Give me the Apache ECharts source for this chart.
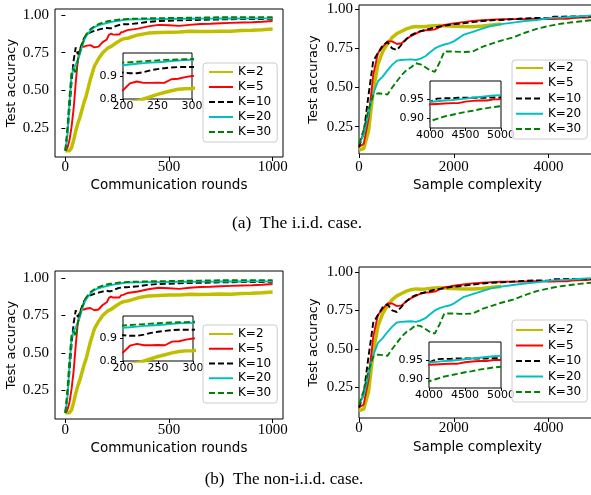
<!DOCTYPE html>
<html>
<head>
<meta charset="utf-8">
<script src="https://cdn.jsdelivr.net/npm/echarts@6/dist/echarts.min.js"></script>
<style>
  html, body { margin: 0; padding: 0; background: #fff; }
  #chart { width: 591px; height: 495px; }
</style>
</head>
<body>
<div id="chart"></div>
<script>
const kNames = ['K=2', 'K=5', 'K=10', 'K=20', 'K=30'];

// left panels: test accuracy vs communication rounds
const rounds = [0, 10, 20, 30, 40, 50, 60, 70, 80, 90, 100, 120, 140, 160, 180,
  200, 210, 220, 230, 240, 250, 260, 270, 280, 290, 300,
  350, 400, 450, 500, 550, 600, 650, 700, 750, 800, 850, 900, 950, 1000];
const roundsK2 = [0.10, 0.10, 0.10, 0.12, 0.17, 0.23, 0.28, 0.32, 0.37, 0.42, 0.46, 0.57, 0.66, 0.71, 0.75,
  0.775, 0.785, 0.79, 0.80, 0.81, 0.82, 0.828, 0.836, 0.842, 0.845, 0.846,
  0.868, 0.88, 0.884, 0.886, 0.887, 0.892, 0.89, 0.891, 0.893, 0.892, 0.897, 0.899, 0.902, 0.907];
const roundsK5 = [0.10, 0.12, 0.17, 0.26, 0.38, 0.55, 0.70, 0.77, 0.79, 0.79, 0.795, 0.80, 0.785, 0.79, 0.82,
  0.838, 0.868, 0.876, 0.87, 0.87, 0.871, 0.87, 0.886, 0.888, 0.895, 0.90,
  0.91, 0.925, 0.935, 0.932, 0.928, 0.935, 0.94, 0.942, 0.945, 0.948, 0.95, 0.952, 0.955, 0.96];
const roundsK10 = [0.10, 0.22, 0.38, 0.56, 0.70, 0.785, 0.74, 0.77, 0.81, 0.845, 0.865, 0.885, 0.895, 0.903, 0.91,
  0.915, 0.912, 0.912, 0.917, 0.925, 0.93, 0.934, 0.937, 0.939, 0.939, 0.939,
  0.945, 0.955, 0.96, 0.962, 0.965, 0.967, 0.968, 0.97, 0.971, 0.972, 0.973, 0.974, 0.974, 0.975];
const roundsK20 = [0.10, 0.20, 0.42, 0.60, 0.65, 0.67, 0.70, 0.74, 0.79, 0.83, 0.86, 0.895, 0.92, 0.932, 0.94,
  0.947, 0.95, 0.953, 0.956, 0.958, 0.96, 0.962, 0.965, 0.967, 0.969, 0.97,
  0.971, 0.972, 0.973, 0.974, 0.975, 0.975, 0.976, 0.976, 0.977, 0.977, 0.977, 0.978, 0.978, 0.978];
const roundsK30 = [0.10, 0.25, 0.46, 0.62, 0.645, 0.61, 0.70, 0.76, 0.80, 0.84, 0.87, 0.905, 0.925, 0.94, 0.95,
  0.958, 0.96, 0.962, 0.964, 0.966, 0.968, 0.97, 0.971, 0.972, 0.973, 0.974,
  0.976, 0.978, 0.979, 0.98, 0.981, 0.982, 0.983, 0.984, 0.985, 0.985, 0.986, 0.986, 0.986, 0.986];

// right panels: test accuracy vs sample complexity (K=2 stops at 3000)
const samples = [0, 100, 200, 300, 400, 500, 600, 700, 800, 900, 1000, 1100, 1200, 1300, 1400, 1500,
  1600, 1700, 1800, 1900, 2000, 2200, 2400, 2600, 2800, 3000, 3250, 3500, 3750,
  4000, 4100, 4200, 4300, 4400, 4500, 4600, 4700, 4800, 4900, 5000];
const samplesK2 = [0.10, 0.11, 0.22, 0.48, 0.65, 0.73, 0.78, 0.82, 0.845, 0.86, 0.875, 0.885, 0.89, 0.888, 0.89, 0.893,
  0.895, 0.897, 0.895, 0.893, 0.892, 0.89, 0.889, 0.893, 0.90, 0.906];
const samplesK5 = [0.12, 0.14, 0.30, 0.58, 0.72, 0.76, 0.795, 0.795, 0.778, 0.783, 0.81, 0.83, 0.845, 0.86, 0.866, 0.868,
  0.872, 0.886, 0.90, 0.905, 0.91, 0.918, 0.926, 0.93, 0.934, 0.936, 0.937, 0.938, 0.94,
  0.937, 0.938, 0.939, 0.94, 0.94, 0.944, 0.946, 0.947, 0.947, 0.95, 0.95];
const samplesK10 = [0.12, 0.21, 0.45, 0.67, 0.72, 0.77, 0.79, 0.75, 0.74, 0.775, 0.81, 0.835, 0.85, 0.86, 0.868, 0.876,
  0.885, 0.89, 0.895, 0.90, 0.905, 0.91, 0.918, 0.925, 0.93, 0.932, 0.937, 0.942, 0.945,
  0.943, 0.952, 0.953, 0.953, 0.954, 0.954, 0.954, 0.954, 0.954, 0.955, 0.955];
const samplesK20 = [0.14, 0.20, 0.33, 0.46, 0.54, 0.57, 0.61, 0.645, 0.672, 0.676, 0.678, 0.68, 0.676, 0.685, 0.70, 0.725,
  0.75, 0.765, 0.775, 0.782, 0.795, 0.836, 0.856, 0.876, 0.895, 0.905, 0.915, 0.925, 0.932,
  0.943, 0.945, 0.947, 0.948, 0.95, 0.952, 0.954, 0.956, 0.958, 0.96, 0.961];
const samplesK30 = [0.14, 0.23, 0.36, 0.45, 0.463, 0.46, 0.455, 0.50, 0.54, 0.58, 0.61, 0.63, 0.655, 0.648, 0.63, 0.61,
  0.60, 0.66, 0.73, 0.73, 0.73, 0.727, 0.73, 0.76, 0.78, 0.80, 0.82, 0.85, 0.875,
  0.893, 0.899, 0.905, 0.909, 0.913, 0.917, 0.92, 0.924, 0.927, 0.93, 0.932];

// tick labels
const roundTicks = [0, 500, 1000];
const sampleTicks = [0, 2000, 4000];
const accTicks = [0.25, 0.5, 0.75, 1.0];
const roundZoomTicks = [200, 250, 300];
const roundZoomAccTicks = [0.8, 0.9];
const sampleZoomTicks = [4000, 4500, 5000];
const sampleZoomAccTicks = [0.9, 0.95];

// the non-i.i.d. row reads the same as the i.i.d. row at this size
const roundCurves = [roundsK2, roundsK5, roundsK10, roundsK20, roundsK30];
const sampleCurves = [samplesK2, samplesK5, samplesK10, samplesK20, samplesK30];

const kColors = ['#bfbf00', '#ff0000', '#000000', '#00bfbf', '#008000'];
const kWidths = [3.5, 1.9, 1.9, 1.9, 1.9];
const kDash = ['solid', 'solid', [6, 3], 'solid', [6, 3]];

const sans = 'DejaVu Sans';
const serif = 'Liberation Serif';

// one entry per axes box: 4 main plots + 4 zoomed insets
const panels = [
  { box: [55, 9, 228, 148], xr: [-50, 1050], yr: [0.058, 1.04], xs: rounds, curves: roundCurves,
    xt: roundTicks, yt: accTicks, xname: 'Communication rounds', xgap: 21, ygap: 37, xm: 3 },
  { box: [123, 53, 69, 46], xr: [200, 300], yr: [0.8, 1.0], xs: rounds, curves: roundCurves,
    xt: roundZoomTicks, yt: roundZoomAccTicks, inset: true, dec: 1 },
  { box: [359, 5, 237, 149], xr: [0, 5000], yr: [0.075, 1.0275], xs: samples, curves: sampleCurves,
    xt: sampleTicks, yt: accTicks, xname: 'Sample complexity', xgap: 24, ygap: 39, xm: 6 },
  { box: [430, 81, 71, 47], xr: [4000, 5000], yr: [0.875, 0.998], xs: samples, curves: sampleCurves,
    xt: sampleZoomTicks, yt: sampleZoomAccTicks, inset: true, dec: 2 },
  { box: [55, 271, 228, 148], xr: [-50, 1050], yr: [0.059, 1.047], xs: rounds, curves: roundCurves,
    xt: roundTicks, yt: accTicks, xname: 'Communication rounds', xgap: 22, ygap: 37, xm: 4 },
  { box: [123, 316, 70, 45], xr: [200, 300], yr: [0.8, 1.0], xs: rounds, curves: roundCurves,
    xt: roundZoomTicks, yt: roundZoomAccTicks, inset: true, dec: 1 },
  { box: [359, 267, 237, 151], xr: [0, 5000], yr: [0.052, 1.032], xs: samples, curves: sampleCurves,
    xt: sampleTicks, yt: accTicks, xname: 'Sample complexity', xgap: 22, ygap: 39, xm: 3 },
  { box: [429, 342, 72, 46], xr: [4000, 5000], yr: [0.875, 0.998], xs: samples, curves: sampleCurves,
    xt: sampleZoomTicks, yt: sampleZoomAccTicks, inset: true, dec: 2 },
];

const legendSpots = [
  { left: 203, top: 63, itemWidth: 24, itemGap: 3, itemTextGap: 9, padding: [3, 6, 4, 5] },
  { left: 512, top: 60, itemWidth: 27, itemGap: 3.25, itemTextGap: 8, padding: [2, 6, 4, 3] },
  { left: 203, top: 325, itemWidth: 24, itemGap: 2.75, itemTextGap: 9, padding: [3, 6, 4, 5] },
  { left: 512, top: 320, itemWidth: 27, itemGap: 3.5, itemTextGap: 8, padding: [4, 6, 4, 3] },
];

const grids = [], xAxes = [], yAxes = [], series = [];

panels.forEach((p, g) => {
  const z = p.inset ? 3 : 0;
  grids.push({
    left: p.box[0], top: p.box[1], width: p.box[2], height: p.box[3],
    show: true, borderColor: '#000', borderWidth: 1,
    backgroundColor: p.inset ? '#fff' : 'transparent',
    outerBoundsMode: 'none', z: z,
  });
  const tickFont = p.inset
    ? { fontFamily: sans, fontSize: 11, color: '#000' }
    : { fontFamily: serif, fontSize: 15, color: '#000' };
  xAxes.push({
    type: 'value', gridIndex: g, min: p.xr[0], max: p.xr[1], z: z + 1,
    axisLine: { show: false },
    splitLine: { show: false },
    axisTick: { show: true, length: p.inset ? 3 : 4, lineStyle: { color: '#000' }, customValues: p.xt },
    axisLabel: Object.assign({
      customValues: p.xt, margin: p.inset ? 2 : p.xm,
      formatter: (v) => String(v),
    }, tickFont),
    name: p.xname || '', nameLocation: 'middle', nameGap: p.xgap || 0,
    nameTextStyle: { fontFamily: sans, fontSize: 13.5, color: '#000' },
  });
  yAxes.push({
    type: 'value', gridIndex: g, min: p.yr[0], max: p.yr[1], z: z + 1,
    axisLine: { show: false },
    splitLine: { show: false },
    axisTick: { show: true, length: p.inset ? 3 : 4, lineStyle: { color: '#000' }, customValues: p.yt },
    axisLabel: Object.assign({
      customValues: p.yt, margin: 6,
      formatter: (v) => v.toFixed(p.inset ? p.dec : 2),
    }, tickFont),
    name: p.inset ? '' : 'Test accuracy', nameLocation: 'middle', nameRotate: 90, nameGap: p.ygap || 0,
    nameTextStyle: { fontFamily: sans, fontSize: 13, color: '#000' },
  });
  p.curves.forEach((ys, i) => {
    series.push({
      type: 'line', name: kNames[i], xAxisIndex: g, yAxisIndex: g,
      data: ys.map((y, j) => [p.xs[j], y]),
      symbol: 'none', clip: true, silent: true, z: z + 2,
      lineStyle: { color: kColors[i], width: kWidths[i], type: kDash[i] },
      itemStyle: { color: kColors[i] },
    });
  });
});

// legend icons: line sample only, no marker
const legends = legendSpots.map((s) => Object.assign({
  orient: 'vertical', itemHeight: 14, selectedMode: false,
  borderColor: '#ccc', borderWidth: 1, borderRadius: 3,
  backgroundColor: 'rgba(255,255,255,0.8)',
  itemStyle: { opacity: 0 },
  textStyle: { fontFamily: sans, fontSize: 12, color: '#000' },
  data: kNames, z: 6,
}, s));

const chart = echarts.init(document.getElementById('chart'));
chart.setOption({
  animation: false,
  backgroundColor: '#fff',
  grid: grids,
  xAxis: xAxes,
  yAxis: yAxes,
  legend: legends,
  series: series,
  graphic: [
    { type: 'text', x: 297, y: 223,
      style: { text: '(a)  The i.i.d. case.', font: '17.5px "Liberation Serif"', fill: '#000',
        align: 'center', verticalAlign: 'middle' } },
    { type: 'text', x: 284, y: 480,
      style: { text: '(b)  The non-i.i.d. case.', font: '17px "Liberation Serif"', fill: '#000',
        align: 'center', verticalAlign: 'middle' } },
  ],
});
</script>
</body>
</html>
